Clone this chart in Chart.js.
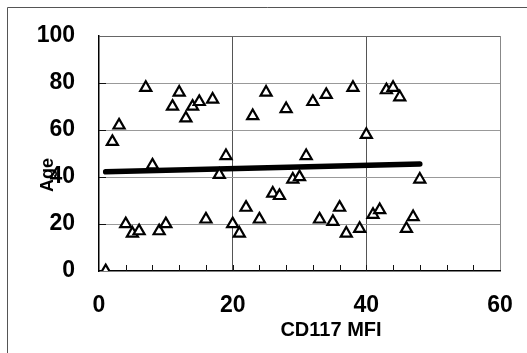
<!DOCTYPE html>
<html>
<head>
<meta charset="utf-8">
<script src="https://cdn.jsdelivr.net/npm/chart.js@4/dist/chart.umd.min.js"></script>
<style>
    html, body { margin: 0; padding: 0; background: #fff; }
    #wrap { width: 527px; height: 353px; position: relative; }
</style>
</head>
<body>
<div id="wrap"><canvas id="age-chart" width="527" height="353"></canvas></div>
<script>
// --- Data ---
const mfiValues = [1, 2, 3, 4, 5, 6, 7, 8, 9, 10, 11, 12, 13, 14, 15, 16, 17, 18, 19, 20, 21, 22, 23, 24,
    25, 26, 27, 28, 29, 30, 31, 32, 33, 34, 35, 36, 37, 38, 39, 40, 41, 42, 43, 44, 45, 46, 47, 48];
const ageValues = [0, 55, 62, 20, 16, 17, 78, 45, 17, 20, 70, 76, 65, 70, 72, 22, 73, 41, 49, 20, 16, 27, 66, 22,
    76, 33, 32, 69, 39, 40, 49, 72, 22, 75, 21, 27, 16, 78, 18, 58, 24, 26, 77, 78, 74, 18, 23, 39];
const trendX = [1, 48];
const trendY = [42.2, 45.5];
const xTicks = [0, 20, 40, 60];
const yTicks = [0, 20, 40, 60, 80, 100];
const xTitle = 'CD117 MFI';
const yTitle = 'Age';

const FONT = "'Liberation Sans', Arial, sans-serif";

// Frame, inside tick marks and the two axis titles
const decorations = {
    id: 'decorations',
    beforeDraw(chart) {
        const ctx = chart.ctx;
        ctx.save();
        ctx.fillStyle = '#fff';
        ctx.fillRect(0, 0, chart.width, chart.height);
        ctx.strokeStyle = '#555';
        ctx.lineWidth = 1;
        ctx.beginPath();
        ctx.moveTo(7.5, chart.height);
        ctx.lineTo(7.5, 7.5);
        ctx.lineTo(chart.width, 7.5);
        ctx.stroke();
        ctx.restore();
    },
    afterDatasetsDraw(chart) {
        const ctx = chart.ctx;
        const x = chart.scales.x;
        const y = chart.scales.y;
        const area = chart.chartArea;
        ctx.save();
        ctx.strokeStyle = '#111';
        ctx.lineWidth = 1;
        ctx.beginPath();
        for (let v = 4; v < 60; v += 4) {
            const px = Math.round(x.getPixelForValue(v)) + 0.5;
            ctx.moveTo(px, area.bottom);
            ctx.lineTo(px, area.bottom - 6);
        }
        for (let v = 20; v < 100; v += 20) {
            const py = Math.round(y.getPixelForValue(v)) + 0.5;
            ctx.moveTo(area.left, py);
            ctx.lineTo(area.left + 7, py);
        }
        ctx.stroke();

        ctx.fillStyle = '#000';
        ctx.font = `bold 20px ${FONT}`;
        ctx.textAlign = 'center';
        ctx.textBaseline = 'middle';
        ctx.fillText(xTitle, 331, 330);

        ctx.translate(48, 175);
        ctx.rotate(-Math.PI / 2);
        ctx.font = `bold 18px ${FONT}`;
        ctx.fillText(yTitle, 0, 0);
        ctx.restore();
    }
};

const points = mfiValues.map((v, i) => ({ x: v, y: ageValues[i] }));
const trend = trendX.map((v, i) => ({ x: v, y: trendY[i] }));

new Chart(document.getElementById('age-chart').getContext('2d'), {
    type: 'scatter',
    data: {
        datasets: [
            {
                label: 'Age',
                data: points,
                pointStyle: 'triangle',
                pointRadius: 6.4,
                pointHoverRadius: 6.4,
                borderColor: '#000',
                backgroundColor: '#fff',
                borderWidth: 2.2,
                order: 0
            },
            {
                type: 'line',
                label: 'Trend',
                data: trend,
                borderColor: '#000',
                borderWidth: 5.5,
                borderCapStyle: 'round',
                pointRadius: 0,
                fill: false,
                order: 1
            }
        ]
    },
    options: {
        responsive: false,
        animation: false,
        layout: { padding: { left: 0, top: 36, right: 27, bottom: 0 } },
        plugins: {
            legend: { display: false },
            tooltip: { enabled: false }
        },
        scales: {
            x: {
                type: 'linear',
                min: 0,
                max: 60,
                afterBuildTicks: scale => { scale.ticks = xTicks.map(v => ({ value: v })); },
                afterFit: scale => {
                    scale.height = 82;
                    scale.paddingLeft = 0;
                    scale.paddingRight = 0;
                },
                ticks: {
                    color: '#000',
                    font: { family: FONT, size: 23, weight: 'bold' },
                    padding: 21,
                    maxRotation: 0,
                    autoSkip: false
                },
                grid: {
                    drawTicks: false,
                    color: ctx => (ctx.tick && (ctx.tick.value === 20 || ctx.tick.value === 40)) ? '#555' : (ctx.tick && ctx.tick.value === 60 ? '#888' : 'rgba(0,0,0,0)'),
                    lineWidth: 1
                },
                border: { color: '#000', width: 1.5 }
            },
            y: {
                min: 0,
                max: 100,
                afterBuildTicks: scale => { scale.ticks = yTicks.map(v => ({ value: v })); },
                afterFit: scale => {
                    scale.width = 99;
                    scale.paddingTop = 0;
                    scale.paddingBottom = 0;
                },
                ticks: {
                    color: '#000',
                    font: { family: FONT, size: 23, weight: 'bold' },
                    padding: 24,
                    autoSkip: false
                },
                grid: {
                    drawTicks: false,
                    color: ctx => (ctx.tick && ctx.tick.value === 0) ? 'rgba(0,0,0,0)' : (ctx.tick && ctx.tick.value === 100 ? '#666' : '#999'),
                    lineWidth: 1
                },
                border: { color: '#000', width: 1.5 }
            }
        }
    },
    plugins: [decorations]
});
</script>
</body>
</html>
